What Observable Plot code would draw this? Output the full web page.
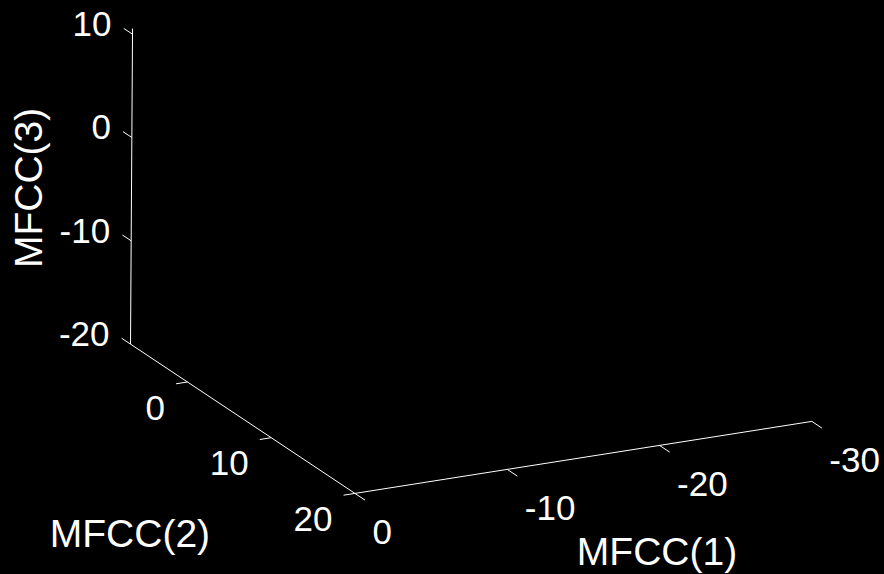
<!DOCTYPE html>
<html>
<head>
<meta charset="utf-8">
<script src="https://cdn.jsdelivr.net/npm/d3@7"></script>
<script src="https://cdn.jsdelivr.net/npm/@observablehq/plot@0.6"></script>
<style>
  html, body { margin: 0; padding: 0; background: #000; }
  svg { display: block; }
</style>
</head>
<body>
<script>
// ---- data (3D axes, no plotted points) ----
const xTicks = [0, -10, -20, -30];      // MFCC(1)
const yTicks = [0, 10, 20];             // MFCC(2)
const zTicks = [-20, -10, 0, 10];       // MFCC(3)
const xLim = [-30, 0];
const yLim = [-6.8, 20];
const zLim = [-20, 10.55];
const xLabel = "MFCC(1)";
const yLabel = "MFCC(2)";
const zLabel = "MFCC(3)";

// ---- view: orthographic projection of data units onto the screen plane ----
const view = {
  origin: [188.3, 174.9],
  ex: [-15.23, 2.40],
  ey: [8.375, 5.57],
  ez: [0.067, -10.33]
};
const P = ([X, Y, Z]) => [
  view.origin[0] + X * view.ex[0] + Y * view.ey[0] + Z * view.ez[0],
  view.origin[1] + X * view.ex[1] + Y * view.ey[1] + Z * view.ez[1]
];

const xMax = xLim[1], xMin = xLim[0];
const yMin = yLim[0], yMax = yLim[1];
const zMin = zLim[0], zMax = zLim[1];

// axis lines and tick marks as 3D segments
const segments = [
  {a: [xMax, yMin, zMin], b: [xMax, yMin, zMax]},   // z axis
  {a: [xMax, yMin, zMin], b: [xMax, yMax, zMin]},   // y axis
  {a: [xMax, yMax, zMin], b: [xMin, yMax, zMin]},   // x axis
  ...zTicks.map(z => ({a: [xMax, yMin, z], b: [xMax, yMin - 1.05, z]})),
  ...yTicks.map(y => ({a: [xMax, y, zMin], b: [xMax + 0.75, y, zMin]})),
  ...xTicks.map(x => ({a: [x, yMax, zMin], b: [x, yMax + 1.2, zMin]}))
];

const font = "'Liberation Sans', Arial, Helvetica, sans-serif";
const white = "#ffffff";

const chart = Plot.plot({
  width: 884,
  height: 574,
  margin: 0,
  x: {type: "linear", domain: [0, 884], range: [0, 884], axis: null},
  y: {type: "linear", domain: [0, 574], range: [0, 574], axis: null},
  style: {background: "#000", color: white, fontFamily: font},
  marks: [
    Plot.link(segments, {
      x1: d => P(d.a)[0], y1: d => P(d.a)[1],
      x2: d => P(d.b)[0], y2: d => P(d.b)[1],
      stroke: white, strokeWidth: 1
    }),
    // z tick labels
    Plot.text(zTicks, {
      x: z => P([xMax, yMin, z])[0], y: z => P([xMax, yMin, z])[1],
      text: d => String(d), textAnchor: "end", dx: -21, dy: -9.5,
      fill: white, fontSize: 35, fontFamily: font
    }),
    // y tick labels
    Plot.text(yTicks, {
      x: y => P([xMax, y, zMin])[0], y: y => P([xMax, y, zMin])[1],
      text: d => String(d), textAnchor: "end", dx: -22.6, dy: 26.5,
      fill: white, fontSize: 35, fontFamily: font
    }),
    // x tick labels
    Plot.text(xTicks, {
      x: x => P([x, yMax, zMin])[0], y: x => P([x, yMax, zMin])[1],
      text: d => String(d), textAnchor: "start", dx: 17.5, dy: 39,
      fill: white, fontSize: 35, fontFamily: font
    }),
    // axis labels
    Plot.text([xLabel], {
      x: () => P([(xMin + xMax) / 2, yMax, zMin])[0],
      y: () => P([(xMin + xMax) / 2, yMax, zMin])[1],
      text: d => d, dx: 73.6, dy: 95.5,
      fill: white, fontSize: 39, fontFamily: font
    }),
    Plot.text([yLabel], {
      x: () => P([xMax, (yMin + yMax) / 2, zMin])[0],
      y: () => P([xMax, (yMin + yMax) / 2, zMin])[1],
      text: d => d, dx: -112.8, dy: 115.5,
      fill: white, fontSize: 39, fontFamily: font
    }),
    Plot.text([zLabel], {
      x: () => P([xMax, yMin, (zMin + zMax) / 2])[0],
      y: () => P([xMax, yMin, (zMin + zMax) / 2])[1],
      text: d => d, rotate: -90, dx: -102, dy: 1.6,
      fill: white, fontSize: 39, fontFamily: font
    })
  ]
});
document.body.appendChild(chart);
</script>
</body>
</html>
